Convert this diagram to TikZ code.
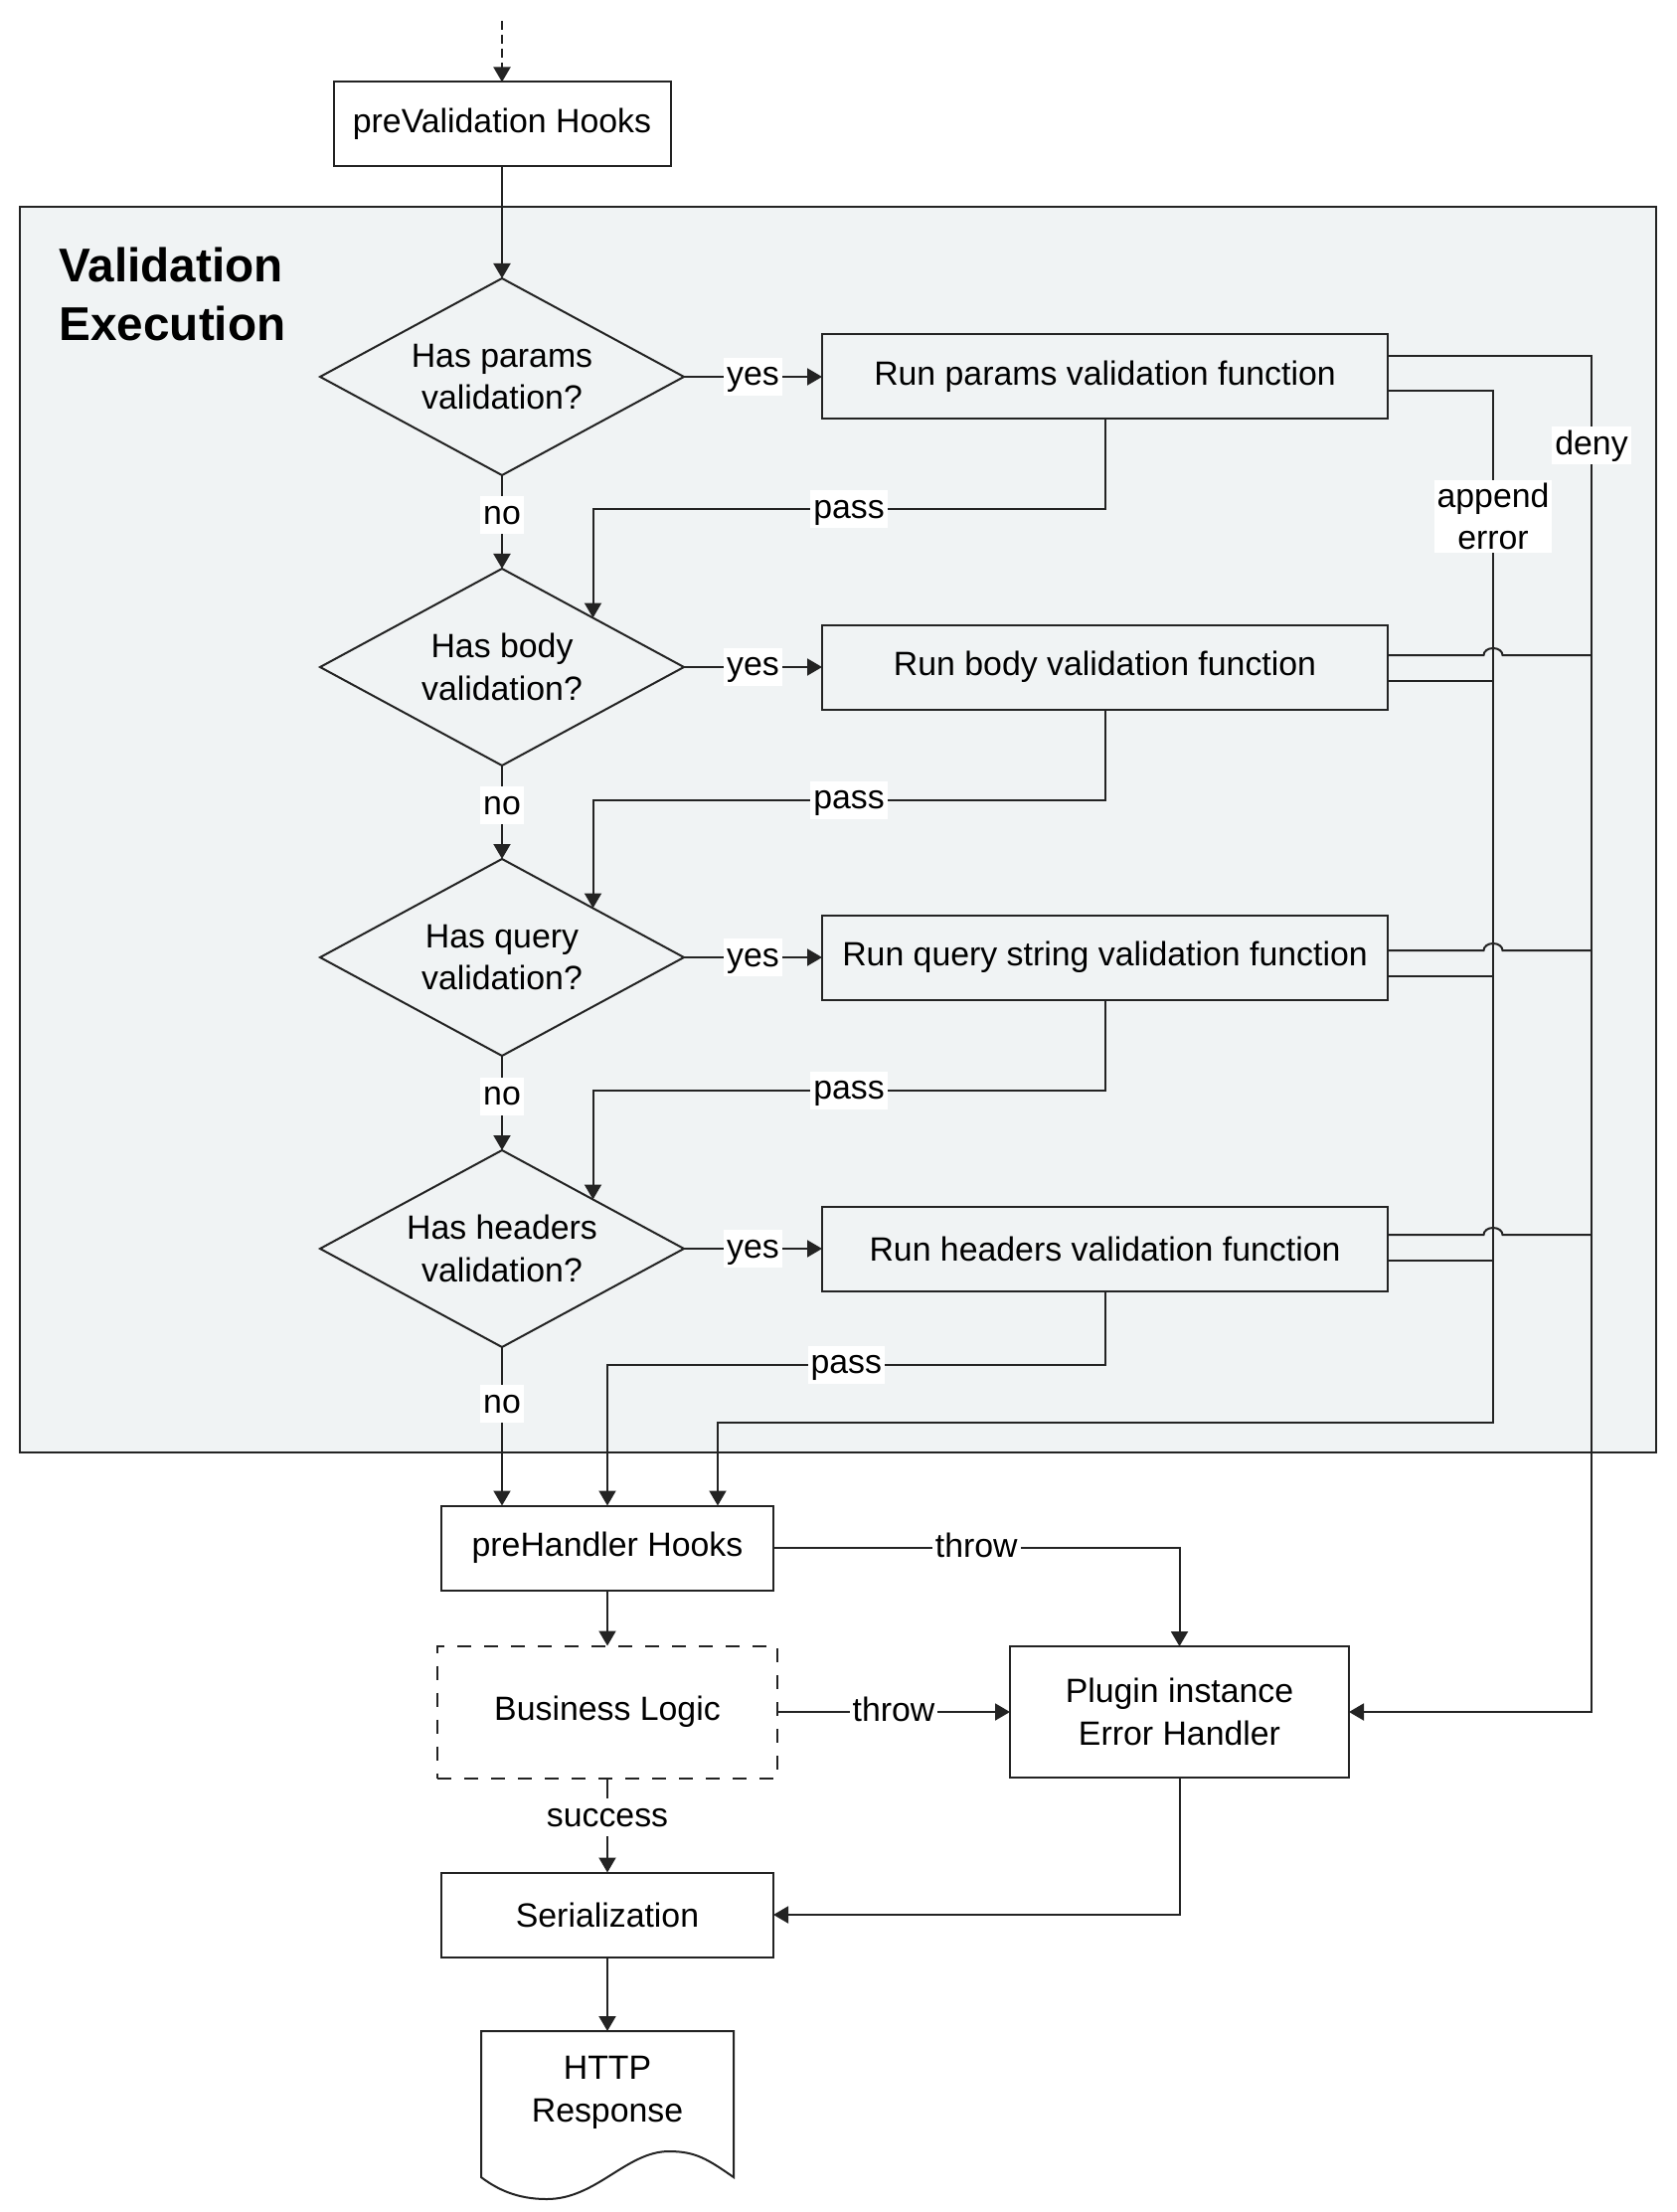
\documentclass[tikz,border=0pt]{standalone}
\usepackage{fontspec}
\setmainfont{Liberation Sans}
\usetikzlibrary{arrows.meta,shapes.geometric}
\newlength{\du}
\setlength{\du}{0.3pt}
\definecolor{dialinecolor}{rgb}{0.137, 0.137, 0.137}
\definecolor{regionfill}{rgb}{0.941, 0.953, 0.957}
\tikzset{
  txt/.style={font=\fontsize{10.15}{12.75}\selectfont},
  procbox/.style={txt, draw=dialinecolor, line width=2\du, rectangle, inner sep=0pt, outer sep=0pt, minimum height=85\du, align=center},
  decision/.style={txt, draw=dialinecolor, line width=2\du, diamond, aspect=1.85, inner sep=0pt, outer sep=0pt, minimum width=366\du, minimum height=198\du, align=center},
  tag/.style={txt, fill=white, inner xsep=3\du, inner ysep=3\du},
  lbl/.style={tag, text height=0.75em, text depth=0.21em},
  wire/.style={draw=dialinecolor, line width=2\du},
  flow/.style={wire, -{Triangle[length=4.5pt,width=5.1pt]}},
}
\begin{document}
\begin{tikzpicture}
\pgftransformxscale{1.000000}
\pgftransformyscale{-1.000000}
\useasboundingbox (0\du,0\du) rectangle (1687\du,2225\du);
% validation block
\draw[draw=dialinecolor, line width=2\du, fill=regionfill] (20\du,208\du) rectangle (1666\du,1461\du);
\node[anchor=west, inner sep=0pt, align=left, font=\fontsize{14.3}{17.7}\selectfont\bfseries] (title) at (59\du,296\du) {Validation\\Execution};
\coordinate (start) at (505\du,21\du);
\node[procbox, minimum width=339\du] (preval) at (505\du,125\du) {preValidation Hooks};
\node[decision] (dpar) at (505\du,379\du) {Has params\\validation?};
\node[decision] (dbody) at (505\du,671\du) {Has body\\validation?};
\node[decision] (dqry) at (505\du,963\du) {Has query\\validation?};
\node[decision] (dhead) at (505\du,1256\du) {Has headers\\validation?};
\node[procbox, minimum width=569\du] (runp) at (1111.5\du,379\du) {Run params validation function};
\node[procbox, minimum width=569\du] (runb) at (1111.5\du,671\du) {Run body validation function};
\node[procbox, minimum width=569\du] (runq) at (1111.5\du,963\du) {Run query string validation function};
\node[procbox, minimum width=569\du] (runh) at (1111.5\du,1256\du) {Run headers validation function};
% after validation
\node[procbox, minimum width=334\du] (ph) at (611\du,1557\du) {preHandler Hooks};
\node[procbox, minimum width=342\du, minimum height=133\du, dash pattern=on 4.2pt off 3.9pt] (biz) at (611\du,1722\du) {Business Logic};
\node[procbox, minimum width=341\du, minimum height=132\du] (err) at (1186.5\du,1722\du) {Plugin instance\\Error Handler};
\node[procbox, minimum width=334\du] (ser) at (611\du,1926\du) {Serialization};
\node[txt, align=center, inner sep=0pt] (resp) at (611\du,2105\du) {HTTP\\Response};
\coordinate (rtop) at (611\du,2043\du);
\draw[wire] (484\du,2043\du) -- (738\du,2043\du) -- (738\du,2190\du) .. controls (712\du,2172\du) and (700\du,2164\du) .. (673\du,2164\du) .. controls (630\du,2164\du) and (600\du,2212\du) .. (550\du,2212\du) .. controls (520\du,2212\du) and (500\du,2202\du) .. (484\du,2190\du) -- cycle;
\coordinate (abus) at (1502\du,1431\du);
\coordinate (dbus) at (1601\du,1722\du);

\draw[flow, dash pattern=on 2.7pt off 1.5pt] (start) -- (preval.north);
\draw[flow] (preval.south) -- (dpar.north);
\draw[flow] (dpar.east) -- node[lbl, midway]{yes} (runp.west);
\draw[flow] (dbody.east) -- node[lbl, midway]{yes} (runb.west);
\draw[flow] (dqry.east) -- node[lbl, midway]{yes} (runq.west);
\draw[flow] (dhead.east) -- node[lbl, midway]{yes} (runh.west);
\draw[flow] (dpar.south) -- node[lbl, pos=0.43]{no} (dbody.north);
\draw[flow] (dbody.south) -- node[lbl, pos=0.43]{no} (dqry.north);
\draw[flow] (dqry.south) -- node[lbl, pos=0.43]{no} (dhead.north);
\draw[flow] (dhead.south) -- node[lbl, pos=0.36]{no} (dhead.south |- ph.north);
\draw[flow] (runp.south) -- ++(0,91\du) -| node[lbl, pos=0.25]{pass} (dbody.north east);
\draw[flow] (runb.south) -- ++(0,91\du) -| node[lbl, pos=0.25]{pass} (dqry.north east);
\draw[flow] (runq.south) -- ++(0,91\du) -| node[lbl, pos=0.25]{pass} (dhead.north east);
\draw[flow] (runh.south) -- ++(0,74\du) -| node[lbl, pos=0.26]{pass} (ph.north);
% append error bus
\draw[flow] (runp.east |- 0,393\du) -| node[tag, pos=0.561, align=center]{append\\error} (abus) -| ([xshift=111\du]ph.north);
\draw[wire] (runb.east |- 0,685\du) -- (abus |- 0,685\du);
\draw[wire] (runq.east |- 0,982\du) -- (abus |- 0,982\du);
\draw[wire] (runh.east |- 0,1268\du) -- (abus |- 0,1268\du);
% deny bus, hops over the append line
\draw[flow] (runp.east |- 0,358\du) -| node[lbl, pos=0.533]{deny} (dbus) -- (err.east);
\draw[wire] (runb.east |- 0,659\du) -- (1492.5\du,659\du) arc[start angle=180, end angle=360, x radius=9.5\du, y radius=7\du] -- (dbus |- 0,659\du);
\draw[wire] (runq.east |- 0,956\du) -- (1492.5\du,956\du) arc[start angle=180, end angle=360, x radius=9.5\du, y radius=7\du] -- (dbus |- 0,956\du);
\draw[wire] (runh.east |- 0,1242\du) -- (1492.5\du,1242\du) arc[start angle=180, end angle=360, x radius=9.5\du, y radius=7\du] -- (dbus |- 0,1242\du);

\draw[flow] (ph.east) -| node[lbl, pos=0.25]{throw} (err.north);
\draw[flow] (ph.south) -- (biz.north);
\draw[flow] (biz.east) -- node[lbl, midway]{throw} (err.west);
\draw[flow] (biz.south) -- node[lbl, pos=0.42]{success} (ser.north);
\draw[flow] (err.south) |- (ser.east);
\draw[flow] (ser.south) -- (rtop);
\end{tikzpicture}
\end{document}
